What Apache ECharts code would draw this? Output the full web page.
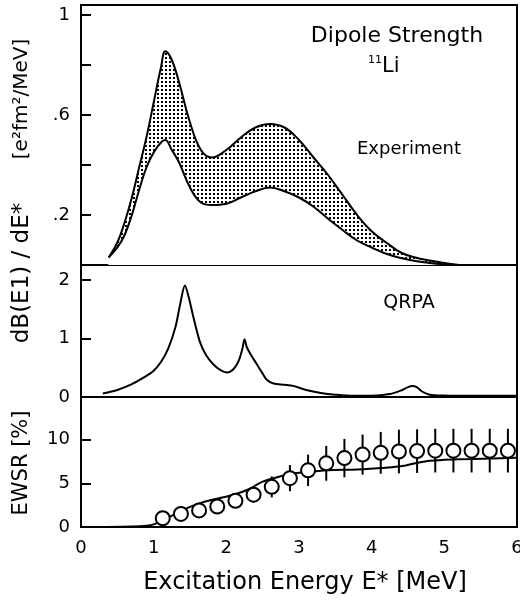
<!DOCTYPE html>
<html><head><meta charset="utf-8">
<script src="https://cdn.jsdelivr.net/npm/echarts@6/dist/echarts.min.js"></script>
<style>html,body{margin:0;padding:0;background:#fff}#c{width:520px;height:601px}</style>
</head><body><div id="c"></div>
<script>
// ---- Data ----
const energy   = [0.38,0.5,0.6,0.7,0.8,0.9,1.0,1.1,1.16,1.25,1.35,1.5,1.65,1.8,2.0,2.2,2.4,2.6,2.8,3.0,3.2,3.4,3.6,3.8,4.0,4.2,4.4,4.6,4.8,5.0,5.2];
const upperExp = [0.03,0.09,0.17,0.27,0.39,0.51,0.65,0.79,0.855,0.82,0.73,0.57,0.46,0.43,0.46,0.51,0.55,0.564,0.55,0.50,0.43,0.36,0.28,0.20,0.135,0.09,0.05,0.03,0.018,0.008,0.0];
const lowerExp = [0.03,0.07,0.12,0.20,0.30,0.39,0.45,0.49,0.50,0.46,0.41,0.31,0.25,0.24,0.245,0.27,0.295,0.31,0.295,0.27,0.233,0.185,0.14,0.098,0.07,0.045,0.028,0.016,0.008,0.003,0.0];

const qrpaE = [0.30,0.5,0.7,0.9,1.0,1.1,1.2,1.3,1.37,1.43,1.48,1.55,1.64,1.72,1.82,1.92,2.01,2.1,2.17,2.22,2.25,2.28,2.34,2.42,2.5,2.56,2.65,2.8,2.92,3.1,3.3,3.5,3.75,4.0,4.25,4.4,4.5,4.56,4.62,4.7,4.8,5.0,5.3,5.6,6.0];
const qrpaV = [0.06,0.12,0.22,0.36,0.45,0.60,0.83,1.20,1.62,1.91,1.72,1.35,0.93,0.72,0.56,0.46,0.42,0.48,0.62,0.82,0.99,0.86,0.72,0.56,0.40,0.29,0.23,0.21,0.19,0.12,0.07,0.04,0.02,0.02,0.05,0.11,0.17,0.19,0.17,0.09,0.04,0.025,0.02,0.02,0.02];

const ewsrE   = [1.125,1.375,1.625,1.875,2.125,2.375,2.625,2.875,3.125,3.375,3.625,3.875,4.125,4.375,4.625,4.875,5.125,5.375,5.625,5.875];
const ewsrVal = [1.0,1.5,1.9,2.35,3.0,3.7,4.6,5.6,6.5,7.3,7.9,8.3,8.5,8.65,8.7,8.75,8.75,8.75,8.75,8.75];
const ewsrErr = [0.2,0.3,0.4,0.5,0.7,0.9,1.2,1.5,1.8,2.0,2.2,2.3,2.4,2.5,2.5,2.5,2.5,2.5,2.5,2.5];

const ewsrThE = [0.35,0.7,0.9,1.0,1.15,1.3,1.5,1.7,1.9,2.1,2.3,2.5,2.7,2.9,3.1,3.4,3.8,4.2,4.4,4.6,4.8,5.0,5.4,6.0];
const ewsrThV = [0.0,0.05,0.15,0.3,0.9,1.5,2.3,2.9,3.3,3.7,4.3,5.2,5.7,6.1,6.3,6.5,6.6,6.8,6.95,7.3,7.6,7.7,7.8,7.95];

const xTicks = ['0','1','2','3','4','5','6'];
const topLabels = {'0.2':'.2','0.6':'.6','1':'1'};
const midLabels = {'0':'0','1':'1','2':'2'};
const botLabels = {'0':'0','5':'5','10':'10'};

// ---- Chart ----
const FONT = 'DejaVu Sans';
const pat = document.createElement('canvas');
pat.width = 4; pat.height = 4;
const pc = pat.getContext('2d');
pc.fillStyle = '#fff'; pc.fillRect(0,0,4,4);
pc.fillStyle = '#000'; pc.fillRect(1,1,2,2);

const chart = echarts.init(document.getElementById('c'), null, {renderer:'canvas'});
const gridBase = {left:81, width:436, show:true, borderColor:'#000', borderWidth:2, backgroundColor:'transparent', outerBoundsMode:'none', containLabel:false};
function fmt(map){ return function(v){ const k = String(Math.round(v*100)/100); return map[k] !== undefined ? map[k] : ''; }; }
function yAx(gi, max, interval, map){
  return {type:'value', gridIndex:gi, min:0, max:max, interval:interval,
    axisLine:{show:true, lineStyle:{color:'#000', width:2}},
    axisTick:{show:true, inside:true, length:10, lineStyle:{color:'#000', width:2}},
    splitLine:{show:false},
    axisLabel:{show:true, formatter:fmt(map), color:'#000', fontFamily:FONT, fontSize:18, margin:11}};
}
function xAx(gi, showLabels){
  return {type:'value', gridIndex:gi, min:0, max:6, interval:1,
    axisLine:{show:true, lineStyle:{color:'#000', width:2}},
    axisTick:{show:false}, splitLine:{show:false},
    axisLabel:{show:showLabels, color:'#000', fontFamily:FONT, fontSize:18, margin:12,
      formatter:function(v){ return xTicks[Math.round(v)] || ''; }}};
}
const blackLine = {color:'#000', width:2};
function txt(x, y, text, size, align, rot){
  return {type:'text', x:x, y:y, rotation:rot||0, z:100,
    style:{text:text, fontFamily:FONT, fontSize:size, fill:'#000', align:align||'center', verticalAlign:'middle'}};
}

chart.setOption({
  animation:false,
  backgroundColor:'#fff',
  grid:[
    Object.assign({top:5, height:260}, gridBase),
    Object.assign({top:265, height:132}, gridBase),
    Object.assign({top:397, height:130}, gridBase)
  ],
  xAxis:[xAx(0,false), xAx(1,false), xAx(2,true)],
  yAxis:[yAx(0,1.04,0.2,topLabels), yAx(1,2.26,1,midLabels), yAx(2,14.9,5,botLabels)],
  series:[
    {type:'line', xAxisIndex:0, yAxisIndex:0, symbol:'none', smooth:0.4, z:2,
      lineStyle:blackLine, areaStyle:{color:{image:pat, repeat:'repeat'}, opacity:1},
      data:energy.map((e,i)=>[e, upperExp[i]])},
    {type:'line', xAxisIndex:0, yAxisIndex:0, symbol:'none', smooth:0.4, z:3,
      lineStyle:blackLine, areaStyle:{color:'#fff', opacity:1},
      data:energy.map((e,i)=>[e, lowerExp[i]])},
    {type:'line', xAxisIndex:1, yAxisIndex:1, symbol:'none', smooth:0.3,
      lineStyle:blackLine, data:qrpaE.map((e,i)=>[e, qrpaV[i]])},
    {type:'line', xAxisIndex:2, yAxisIndex:2, symbol:'none', smooth:0.3,
      lineStyle:blackLine, data:ewsrThE.map((e,i)=>[e, ewsrThV[i]])},
    {type:'custom', xAxisIndex:2, yAxisIndex:2, encode:{x:0, y:1},
      data:ewsrE.map((e,i)=>[e, ewsrVal[i], ewsrErr[i]]),
      renderItem:function(params, api){
        const x = api.value(0), y = api.value(1), er = api.value(2);
        const p1 = api.coord([x, y-er]), p2 = api.coord([x, y+er]);
        return {type:'line', shape:{x1:p1[0], y1:p1[1], x2:p2[0], y2:p2[1]}, style:{stroke:'#000', lineWidth:2}};
      }, z:3},
    {type:'scatter', xAxisIndex:2, yAxisIndex:2, symbol:'circle', symbolSize:14,
      itemStyle:{color:'#fff', borderColor:'#000', borderWidth:2, opacity:1},
      data:ewsrE.map((e,i)=>[e, ewsrVal[i]]), z:4}
  ],
  graphic:[
    txt(397, 36, 'Dipole Strength', 22),
    txt(382, 60, '11', 11, 'right'),
    txt(382, 67, 'Li', 21, 'left'),
    txt(409, 149, 'Experiment', 18),
    txt(409, 303, 'QRPA', 19),
    txt(22, 273, 'dB(E1) / dE*', 23, 'center', Math.PI/2),
    txt(22, 99, '[e²fm²/MeV]', 20, 'center', Math.PI/2),
    txt(22, 463, 'EWSR [%]', 21, 'center', Math.PI/2),
    txt(305, 583, 'Excitation Energy E* [MeV]', 24)
  ]
});
</script></body></html>
